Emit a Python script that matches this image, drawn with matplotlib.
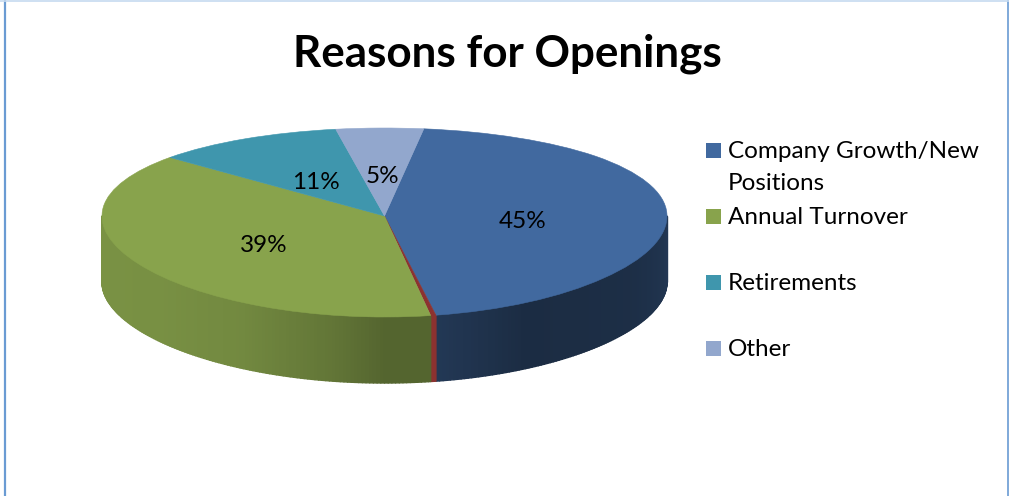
import numpy as np
import matplotlib
matplotlib.use("Agg")
import matplotlib.pyplot as plt
from matplotlib.collections import PolyCollection
from matplotlib.lines import Line2D
from matplotlib.patches import Rectangle
from matplotlib.transforms import IdentityTransform

plt.rcParams["font.family"] = ["Lato", "DejaVu Sans"]

TITLE = "Reasons for Openings"
legend_labels = ["Company Growth/New\nPositions", "Annual Turnover", "Retirements", "Other"]
values = [45, 39, 11, 5]
value_labels = ["45%", "39%", "11%", "5%"]
colors = ["#41699F", "#88A34C", "#3F96AD", "#92A7CD"]
sliver_value = 0.3
sliver_color = "#8C3230"

W, H = 1009, 496
fig = plt.figure(figsize=(W / 100, H / 100), dpi=100, facecolor="white")


def fx(px):
    return px / W


def fy(py):
    return 1 - py / H


# Pie face spans these pixel bounds; the y scale tilts it with a slight perspective.
left, right, top, bottom = 102, 667, 128, 317
ax = fig.add_axes([fx(left), fy(bottom), (right - left) / W, (bottom - top) / H])

tilt = 0.0688
gain = 94.0
ax.set_yscale("function",
              functions=(lambda y: gain * y / (1 + tilt * y),
                         lambda s: s / (gain - tilt * s)))

sizes = [values[0], sliver_value] + values[1:]
face_colors = [colors[0], sliver_color] + colors[1:]
wedges, _ = ax.pie(sizes, colors=face_colors, startangle=82, counterclock=False,
                   radius=1.0, wedgeprops=dict(linewidth=0.4, clip_on=False))
for w, c in zip(wedges, face_colors):
    w.set_edgecolor(c)
ax.set_aspect("auto")
ax.set_xlim(-1, 1)
ax.set_ylim(-1, 1)
ax.axis("off")
fig.canvas.draw()

# Outer wall, built from the wedge angles and shaded along its width.
depth = 66
shades = {
    0: ([-90, -60, -30, 0], [0.60, 0.42, 0.44, 0.52]),
    1: ([-90, 0], [1.0, 1.0]),
    2: ([-180, -140, -120, -100, -90], [0.90, 0.88, 0.84, 0.72, 0.62]),
}
for idx, wedge in enumerate(wedges[:3]):
    a0, a1 = wedge.theta1, wedge.theta2
    # Only the part of the rim facing the viewer is visible.
    a1n = ((a1 + 180) % 360) - 180
    a0n = a1n - (a1 - a0)
    lo, hi = max(a0n, -180), min(a1n, 0)
    if hi <= lo:
        continue
    edges = np.arange(lo, hi + 0.75, 0.75)
    edges[-1] = hi
    base = np.array(matplotlib.colors.to_rgb(face_colors[idx]))
    polys, fc = [], []
    for t0, t1 in zip(edges[:-1], edges[1:]):
        p = ax.transData.transform([[np.cos(np.radians(t0)), np.sin(np.radians(t0))],
                                    [np.cos(np.radians(t1)), np.sin(np.radians(t1))]])
        polys.append([p[0], p[1], p[1] - [0, depth], p[0] - [0, depth]])
        if idx == 1:
            fc.append(base)
        else:
            fc.append(base * np.interp((t0 + t1) / 2, *shades[idx]))
    fig.add_artist(PolyCollection(polys, facecolors=fc, edgecolors=fc, linewidths=1.0,
                                  transform=IdentityTransform(), zorder=0.5 + idx * 0.1))
ax.set_zorder(2)
ax.patch.set_visible(False)

# Percentage labels sit halfway out along each slice's middle angle.
for wedge, text in zip([wedges[0]] + list(wedges[2:]), value_labels):
    mid = np.radians((wedge.theta1 + wedge.theta2) / 2)
    ax.annotate(text, (0.49 * np.cos(mid), 0.5 * np.sin(mid)), xytext=(0, -4.5),
                textcoords="offset points", ha="center", va="center",
                fontsize=17.5, color="black", zorder=5)

fig.text(fx(507), fy(54), TITLE, ha="center", va="center", fontsize=31.7, fontweight="bold",
         color="black")

# Legend rows are unevenly spaced, so each one is placed on its own.
row_y = [151, 217, 283, 349]
for label, color, y in zip(legend_labels, colors, row_y):
    fig.add_artist(Rectangle((fx(706), fy(y + 7)), 15 / W, 15 / H, transform=fig.transFigure,
                             facecolor=color, edgecolor="none"))
    for i, line in enumerate(label.split("\n")):
        fig.text(fx(728), fy(y + 1 + i * 32), line, ha="left", va="center", fontsize=17.5,
                 color="black")

# Chart border.
border = "#6A9BD3"
fig.add_artist(Line2D([fx(4.5), fx(4.5)], [0, 1], color=border, lw=1.6))
fig.add_artist(Line2D([fx(1008), fx(1008)], [0, 1], color=border, lw=1.2))
fig.add_artist(Line2D([0, 1], [fy(0.5), fy(0.5)], color="#C6DAF0", lw=1.2))

fig.savefig("out.png", dpi=100, facecolor="white")
